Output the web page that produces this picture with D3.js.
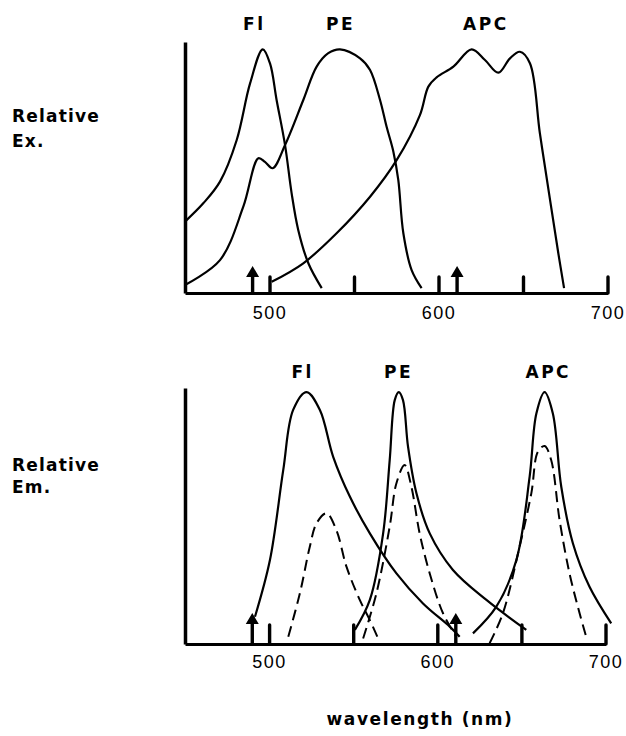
<!DOCTYPE html>
<html>
<head>
<meta charset="utf-8">
<script src="https://cdn.jsdelivr.net/npm/d3@7/dist/d3.min.js"></script>
<style>
  body { margin: 0; background: #fff; }
  svg text { font-family: "DejaVu Sans", sans-serif; font-weight: bold; fill: #000; }
  svg .axis text { font-family: "Liberation Sans", Arial, sans-serif; font-weight: normal; font-size: 18px; letter-spacing: 1.5px; }
</style>
</head>
<body>
<svg id="chart" width="626" height="736"></svg>
<script>
// tick values / labels on the wavelength axis
var tickVals = [500, 550, 600, 650, 700];
var tickLabels = {500: "500", 600: "600", 700: "700"};
// laser lines (nm)
var laserNm = [490, 611];
var dyeNames = ["Fl", "PE", "APC"];
var exLabelNm = [491, 542, 628];
var emLabelNm = [520, 577, 666];

// excitation spectra  [nm, relative]
var flEx = [[450,29.3],[460.8,36.8],[470.7,45.7],[480.6,62.8],[488.5,86],[496,100],[500.3,94.2],
            [504.2,79.2],[509.2,60.7],[513.1,40.9],[517,25.9],[523,12.2],[530.9,2]];
var peEx = [[450,3.3],[470.7,13.5],[484.5,35.4],[493.4,55.3],[497.3,53.8],[501.9,51.2],[509.2,60.7],
            [520,79.2],[527.9,92.9],[534.8,98.4],[541.7,100],[553.6,96.3],[559.5,91.5],[565.4,79.2],
            [569.3,68.2],[573.3,58],[576.2,46.4],[579.2,24.5],[584.1,9.4],[590,2]];
var apcEx = [[501.3,4.6],[520,12.2],[539.7,24.5],[559.5,39.5],[575.3,54.6],[589,73],[594,84.7],
             [598.9,88.5],[608.8,92.9],[619.6,100],[627.5,95.6],[635.4,90.4],[642.3,96.3],[648.2,99],
             [654.1,94.3],[660,65.5],[666,38.2],[670.9,16.3],[674.3,2]];

// emission spectra, solid
var flEm = [[491.6,10.8],[500.5,33.3],[508.4,69],[514.3,92.9],[522.3,100],[530.2,92.9],[538.1,74.3],
            [548,58.5],[559.9,43.9],[575.7,28],[591.5,16.1],[607.4,6.9],[613.3,2.9]];
var peEm = [[551,5.6],[559.9,17.5],[567.8,43.9],[571.7,73],[574.7,96.8],[577.1,100],[579.6,96.8],
            [582.6,78.3],[587.6,59.8],[595.5,43.9],[609.3,29.4],[629.2,17.5],[652.9,5.6]];
var apcEm = [[621.2,4.2],[635.1,14.8],[647,33.3],[654.9,66.4],[658.9,91.5],[663.8,100],[668.7,91.5],
             [673.7,62.4],[680.6,40],[690.5,22.7],[703.4,8.2]];
// emission spectra, dashed
var flEmD = [[511.4,2.9],[518.3,20.1],[524.2,38.6],[528.2,47.9],[534.1,51.9],[540,45.2],[546,30.7],
             [553.9,17.5],[559.9,9.5],[564.8,2.2]];
var peEmD = [[555.9,2.2],[563.8,20.1],[571.7,46.6],[575.7,63.8],[580.6,71],[584.6,62.4],[589.5,43.9],
             [595.5,28],[603.4,12.2],[611.3,2.9]];
var apcEmD = [[631.1,0.3],[639,12.2],[648.9,38.6],[655.9,59.8],[659.8,76.3],[663.8,78.6],[667.7,73],
              [672.7,49.2],[678.6,28],[684.6,12.2],[688.5,2.9]];

var svg = d3.select("#chart");

function panel(opt) {
  var x = d3.scaleLinear().domain([450, 700]).range(opt.xRange);
  var y = d3.scaleLinear().domain([0, opt.yMax]).range(opt.yRange);
  var g = svg.append("g");

  // y axis: plain line
  g.append("g")
      .attr("transform", "translate(" + opt.xRange[0] + ",0)")
      .call(d3.axisLeft(y).tickValues([]).tickSizeOuter(0))
      .call(function(a) { a.select(".domain").attr("stroke-width", 3.5); });

  // x axis with short upward ticks
  var ax = g.append("g")
      .attr("class", "axis")
      .attr("transform", "translate(0," + opt.yRange[0] + ")")
      .call(d3.axisBottom(x).tickValues(tickVals).tickSizeInner(-opt.tickLen).tickSizeOuter(0)
              .tickPadding(opt.pad).tickFormat(function(d) { return tickLabels[d] || ""; }));
  ax.select(".domain").attr("stroke-width", 3);
  ax.selectAll(".tick line").attr("stroke-width", 3.4).attr("stroke-linecap", "round");
  ax.selectAll(".tick text").attr("y", opt.pad).attr("fill", "#000");

  // laser arrows
  var L = opt.arrowLen, H = 11;
  g.selectAll(".laser").data(laserNm).enter().append("path")
      .attr("class", "laser")
      .attr("transform", function(d) { return "translate(" + x(d) + "," + y(0) + ")"; })
      .attr("d", "M-1.7,0 L-1.7,-" + (L - H) + " L-6.5,-" + (L - H) +
                 " L0,-" + L + " L6.5,-" + (L - H) + " L1.7,-" + (L - H) + " L1.7,0 Z")
      .attr("fill", "#000");

  var line = d3.line()
      .x(function(d) { return x(d[0]); })
      .y(function(d) { return y(d[1]); })
      .curve(d3.curveCatmullRom.alpha(0.5));

  g.selectAll(".solid").data(opt.solid).enter().append("path")
      .attr("d", line)
      .attr("fill", "none").attr("stroke", "#000").attr("stroke-width", 2.2);

  g.selectAll(".dashed").data(opt.dashed || []).enter().append("path")
      .attr("d", line)
      .attr("fill", "none").attr("stroke", "#000").attr("stroke-width", 2)
      .attr("stroke-dasharray", "11,6");

  // dye names
  g.selectAll(".dye").data(dyeNames).enter().append("text")
      .attr("x", function(d, i) { return x(opt.labelNm[i]); })
      .attr("y", opt.labelY)
      .attr("text-anchor", "middle")
      .style("font-size", "17px")
      .style("letter-spacing", "2.5px")
      .text(function(d) { return d; });

  // side label
  var side = g.append("text").attr("x", 12).attr("y", opt.sideY)
      .style("font-size", "17px").style("letter-spacing", "1.2px");
  side.append("tspan").attr("x", 12).text("Relative");
  side.append("tspan").attr("x", 12).attr("dy", opt.sideGap).text(opt.sideText);
}

panel({
  xRange: [185, 607.5], yRange: [293, 42], yMax: 103,
  tickLen: 16, pad: 13, arrowLen: 27,
  solid: [flEx, peEx, apcEx],
  labelNm: exLabelNm, labelY: 30,
  sideY: 122, sideGap: 25, sideText: "Ex."
});

panel({
  xRange: [185, 605.5], yRange: [644, 388], yMax: 101.6,
  tickLen: 19, pad: 11, arrowLen: 31,
  solid: [flEm, peEm, apcEm],
  dashed: [flEmD, peEmD, apcEmD],
  labelNm: emLabelNm, labelY: 378,
  sideY: 471, sideGap: 22, sideText: "Em."
});

svg.append("text")
    .attr("x", 420).attr("y", 725)
    .attr("text-anchor", "middle")
    .style("font-size", "17px")
    .style("letter-spacing", "1.6px")
    .text("wavelength (nm)");
</script>
</body>
</html>
